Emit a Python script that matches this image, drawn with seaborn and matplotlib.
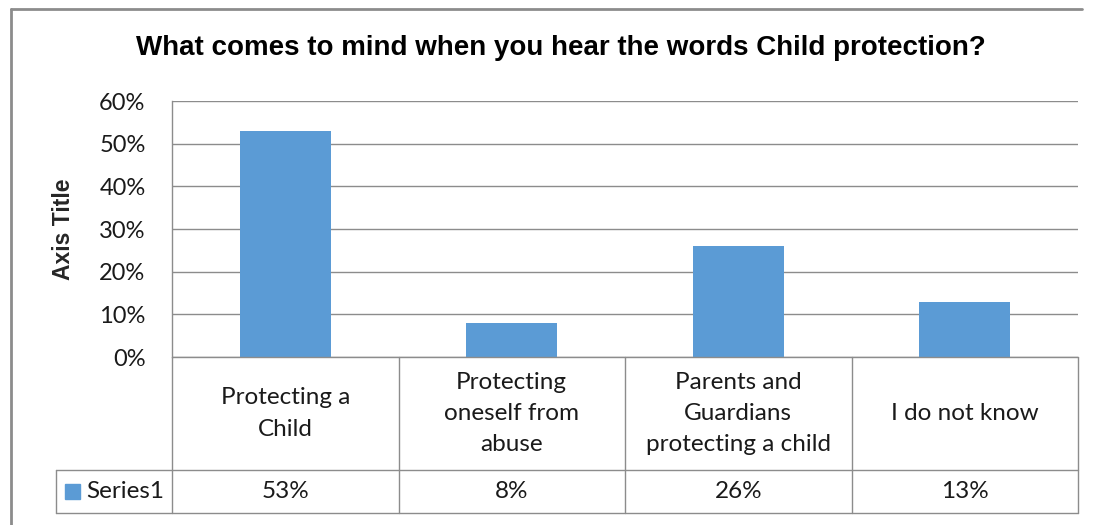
import matplotlib
matplotlib.use("Agg")
import matplotlib.pyplot as plt
import seaborn as sns
import pandas as pd
from matplotlib.lines import Line2D

categories = ["Protecting a\nChild", "Protecting\noneself from\nabuse", "Parents and\nGuardians\nprotecting a child", "I do not know"]
values = [0.53, 0.08, 0.26, 0.13]
value_labels = ["53%", "8%", "26%", "13%"]
yticks = [0, 0.1, 0.2, 0.3, 0.4, 0.5, 0.6]
ytick_labels = ["0%", "10%", "20%", "30%", "40%", "50%", "60%"]
series_name = "Series1"
title = "What comes to mind when you hear the words Child protection?"
ylabel = "Axis Title"

sns.set_theme(style="white")
FONT = ["Lato", "DejaVu Sans"]
TITLE_FONT = ["Liberation Sans", "DejaVu Sans"]
plt.rcParams["font.family"] = FONT

W, H = 1095, 525
fig = plt.figure(figsize=(W / 100, H / 100), dpi=100)
fig.patch.set_facecolor("white")

x0, x1, ytop, y0 = 172, 1078, 101, 357
ax = fig.add_axes([x0 / W, 1 - y0 / H, (x1 - x0) / W, (y0 - ytop) / H])

df = pd.DataFrame({"cat": categories, "val": values})
sns.barplot(data=df, x="cat", y="val", ax=ax, color="#5B9BD5", width=0.4, saturation=1)
for p in ax.patches:
    p.set_edgecolor("none")

TXT = "#1a1a1a"
FS = 17.5
ax.set_ylim(0, 0.6)
ax.set_xlim(-0.5, 3.5)
ax.set_yticks(yticks)
ax.set_yticklabels(ytick_labels, fontsize=17, color=TXT)
ax.tick_params(axis="y", length=0, pad=19)
ax.set_xticks([])
ax.set_xlabel("")
ax.set_ylabel(ylabel, fontsize=16.5, fontweight="bold", labelpad=17, family=TITLE_FONT)
ax.yaxis.grid(True, color="#8c8c8c", linewidth=1)
ax.set_axisbelow(True)
for s in ["right", "bottom", "top"]:
    ax.spines[s].set_visible(False)
ax.spines["left"].set_color("#8c8c8c")
ax.spines["left"].set_linewidth(1)

fig.text(561 / W, 1 - 48 / H, title, ha="center", va="center",
         fontsize=20, fontweight="bold", color="#000000", family=TITLE_FONT)

def fx(px):
    return px / W

def fy(py):
    return 1 - py / H

lc = "#8c8c8c"
row1, row2, row3 = 357, 470, 513
cols = [172, 398.5, 625, 851.5, 1078]

def hline(xa, xb, y):
    fig.add_artist(Line2D([fx(xa), fx(xb)], [fy(y), fy(y)], color=lc, lw=1))

def vline(x, ya, yb):
    fig.add_artist(Line2D([fx(x), fx(x)], [fy(ya), fy(yb)], color=lc, lw=1))

hline(172, 1078, row1)
hline(56, 1078, row2)
hline(56, 1078, row3)
for c in cols:
    vline(c, row1, row3)
vline(56, row2, row3)

for i, (cat, lab) in enumerate(zip(categories, value_labels)):
    cx = (cols[i] + cols[i + 1]) / 2
    fig.text(fx(cx), fy((row1 + row2) / 2), cat, ha="center", va="center",
             fontsize=FS, color=TXT, linespacing=1.6)
    fig.text(fx(cx), fy((row2 + row3) / 2), lab, ha="center", va="center",
             fontsize=FS, color=TXT)

fig.add_artist(plt.Rectangle((fx(65), fy(499)), 15 / W, 15 / H, color="#5B9BD5",
                             transform=fig.transFigure))
fig.text(fx(86), fy((row2 + row3) / 2), series_name, ha="left", va="center",
         fontsize=FS, color=TXT)

# outer chart border
fig.add_artist(Line2D([fx(11), fx(11)], [fy(9), 0], color="#8c8c8c", lw=2))
fig.add_artist(Line2D([fx(11), fx(1082)], [fy(9), fy(9)], color="#8c8c8c", lw=2))

fig.savefig("out.png", dpi=100, facecolor="white")
